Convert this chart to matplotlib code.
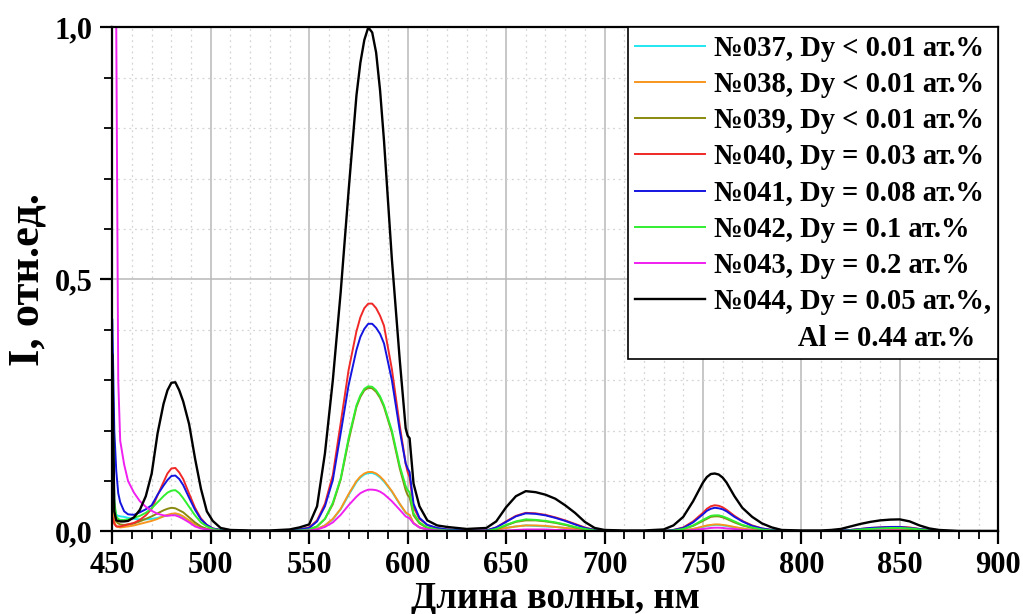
import matplotlib
matplotlib.use('Agg')
import matplotlib.pyplot as plt
from matplotlib.lines import Line2D
from matplotlib.ticker import MultipleLocator, FuncFormatter

# wavelength grid, nm
wl = [450, 451, 452, 453, 454, 456, 458, 461, 464, 467,
      470, 473, 476, 478, 480, 482, 484, 486, 489, 492,
      495, 498, 501, 505, 510, 520, 530, 540, 545, 550,
      554, 558, 562, 566, 570, 574, 576, 578, 580, 582,
      584, 586, 588, 592, 596, 599, 600, 601, 603, 606,
      610, 615, 620, 630, 640, 645, 650, 655, 660, 665,
      670, 675, 680, 685, 690, 695, 700, 710, 720, 730,
      735, 740, 745, 750, 752, 754, 756, 758, 760, 762,
      766, 770, 775, 780, 785, 790, 800, 810, 815, 820,
      825, 830, 835, 840, 845, 850, 855, 860, 865, 870,
      880, 890, 900]

s037 = [0.25, 0.05, 0.033, 0.031, 0.03, 0.029, 0.027, 0.025, 0.024, 0.024,
        0.025, 0.027, 0.03, 0.032, 0.034, 0.034, 0.032, 0.028, 0.021, 0.013,
        0.008, 0.004, 0.003, 0.001, 0.001, 0.0, 0.0, 0.001, 0.001, 0.002,
        0.005, 0.012, 0.024, 0.044, 0.072, 0.098, 0.107, 0.113, 0.116, 0.116,
        0.113, 0.107, 0.099, 0.079, 0.054, 0.037, 0.034, 0.032, 0.016, 0.008,
        0.004, 0.002, 0.001, 0.0, 0.001, 0.003, 0.007, 0.01, 0.012, 0.011,
        0.01, 0.009, 0.007, 0.005, 0.003, 0.001, 0.0, 0.0, 0.0, 0.0,
        0.001, 0.002, 0.005, 0.009, 0.011, 0.012, 0.013, 0.013, 0.012, 0.011,
        0.008, 0.006, 0.003, 0.002, 0.001, 0.0, 0.0, 0.0, 0.0, 0.001,
        0.001, 0.001, 0.002, 0.002, 0.003, 0.003, 0.002, 0.001, 0.001, 0.0,
        0.0, 0.0, 0.0]

s038 = [0.1, 0.02, 0.01, 0.009, 0.008, 0.009, 0.01, 0.012, 0.015, 0.018,
        0.021, 0.025, 0.03, 0.033, 0.035, 0.036, 0.034, 0.03, 0.022, 0.014,
        0.008, 0.005, 0.003, 0.001, 0.001, 0.0, 0.0, 0.001, 0.001, 0.002,
        0.005, 0.012, 0.025, 0.045, 0.074, 0.1, 0.109, 0.115, 0.118, 0.118,
        0.115, 0.109, 0.101, 0.08, 0.055, 0.038, 0.035, 0.033, 0.017, 0.008,
        0.004, 0.002, 0.001, 0.0, 0.001, 0.003, 0.007, 0.01, 0.012, 0.012,
        0.011, 0.009, 0.007, 0.005, 0.003, 0.001, 0.0, 0.0, 0.0, 0.0,
        0.001, 0.002, 0.005, 0.01, 0.012, 0.013, 0.014, 0.014, 0.013, 0.012,
        0.009, 0.006, 0.003, 0.002, 0.001, 0.0, 0.0, 0.0, 0.0, 0.001,
        0.001, 0.001, 0.002, 0.002, 0.003, 0.003, 0.002, 0.001, 0.001, 0.0,
        0.0, 0.0, 0.0]

s039 = [0.2, 0.04, 0.02, 0.016, 0.014, 0.013, 0.014, 0.016, 0.02, 0.025,
        0.03, 0.036, 0.042, 0.045, 0.047, 0.046, 0.042, 0.038, 0.028, 0.018,
        0.01, 0.005, 0.003, 0.002, 0.001, 0.001, 0.001, 0.001, 0.002, 0.004,
        0.01, 0.025, 0.054, 0.103, 0.18, 0.247, 0.267, 0.28, 0.285, 0.284,
        0.277, 0.265, 0.247, 0.196, 0.125, 0.082, 0.072, 0.068, 0.032, 0.016,
        0.007, 0.003, 0.002, 0.001, 0.001, 0.004, 0.012, 0.019, 0.022, 0.022,
        0.02, 0.017, 0.013, 0.008, 0.004, 0.002, 0.001, 0.0, 0.0, 0.001,
        0.002, 0.005, 0.011, 0.021, 0.025, 0.029, 0.03, 0.03, 0.028, 0.025,
        0.018, 0.012, 0.007, 0.004, 0.002, 0.001, 0.0, 0.0, 0.001, 0.001,
        0.002, 0.003, 0.005, 0.006, 0.006, 0.006, 0.005, 0.003, 0.002, 0.001,
        0.0, 0.0, 0.0]

s040 = [0.03, 0.015, 0.01, 0.01, 0.01, 0.012, 0.014, 0.017, 0.023, 0.032,
        0.045, 0.072, 0.098, 0.115, 0.125, 0.126, 0.117, 0.104, 0.075, 0.047,
        0.026, 0.013, 0.006, 0.003, 0.002, 0.001, 0.001, 0.002, 0.004, 0.008,
        0.022, 0.055, 0.112, 0.215, 0.32, 0.397, 0.425, 0.443, 0.452, 0.452,
        0.443, 0.428, 0.408, 0.322, 0.21, 0.135, 0.118, 0.108, 0.048, 0.025,
        0.013, 0.006, 0.004, 0.002, 0.002, 0.008, 0.02, 0.031, 0.037, 0.036,
        0.033, 0.028, 0.022, 0.015, 0.008, 0.003, 0.001, 0.001, 0.001, 0.001,
        0.003, 0.008, 0.02, 0.037, 0.045, 0.05, 0.052, 0.051, 0.048, 0.043,
        0.031, 0.021, 0.012, 0.006, 0.003, 0.001, 0.001, 0.001, 0.001, 0.002,
        0.003, 0.005, 0.007, 0.008, 0.009, 0.009, 0.008, 0.005, 0.003, 0.001,
        0.001, 0.0, 0.0]

s041 = [0.42, 0.2, 0.12, 0.076, 0.058, 0.04, 0.034, 0.033, 0.038, 0.044,
        0.052, 0.073, 0.091, 0.102, 0.11, 0.111, 0.104, 0.092, 0.067, 0.043,
        0.024, 0.013, 0.006, 0.003, 0.002, 0.001, 0.001, 0.002, 0.004, 0.007,
        0.02, 0.05, 0.102, 0.195, 0.29, 0.36, 0.386, 0.402, 0.412, 0.412,
        0.404, 0.392, 0.373, 0.3, 0.2, 0.135, 0.125, 0.118, 0.055, 0.027,
        0.013, 0.007, 0.004, 0.002, 0.002, 0.008, 0.019, 0.03, 0.036, 0.035,
        0.032, 0.027, 0.021, 0.014, 0.007, 0.003, 0.001, 0.001, 0.001, 0.001,
        0.003, 0.007, 0.018, 0.034, 0.041, 0.045, 0.047, 0.046, 0.044, 0.04,
        0.029, 0.02, 0.011, 0.006, 0.003, 0.001, 0.001, 0.001, 0.001, 0.002,
        0.003, 0.005, 0.007, 0.008, 0.009, 0.009, 0.007, 0.005, 0.003, 0.001,
        0.001, 0.0, 0.0]

s042 = [0.3, 0.06, 0.03, 0.025, 0.023, 0.023, 0.024, 0.027, 0.031, 0.037,
        0.046, 0.058, 0.07, 0.077, 0.081, 0.082, 0.076, 0.066, 0.049, 0.032,
        0.018, 0.01, 0.005, 0.002, 0.001, 0.001, 0.001, 0.001, 0.002, 0.004,
        0.01, 0.025, 0.057, 0.105, 0.185, 0.25, 0.27, 0.283, 0.288, 0.287,
        0.28, 0.268, 0.25, 0.2, 0.13, 0.09, 0.082, 0.078, 0.036, 0.018,
        0.008, 0.004, 0.002, 0.001, 0.001, 0.005, 0.013, 0.02, 0.024, 0.023,
        0.021, 0.018, 0.014, 0.009, 0.005, 0.002, 0.001, 0.0, 0.0, 0.001,
        0.002, 0.005, 0.012, 0.023, 0.027, 0.031, 0.032, 0.032, 0.03, 0.027,
        0.02, 0.013, 0.008, 0.004, 0.002, 0.001, 0.0, 0.0, 0.001, 0.001,
        0.002, 0.004, 0.005, 0.006, 0.007, 0.007, 0.006, 0.004, 0.002, 0.001,
        0.0, 0.0, 0.0]

s043 = [2.0, 1.7, 1.0, 0.3, 0.18, 0.133, 0.1, 0.077, 0.06, 0.049,
        0.041, 0.035, 0.032, 0.031, 0.032, 0.032, 0.029, 0.025, 0.018, 0.01,
        0.006, 0.004, 0.002, 0.001, 0.001, 0.0, 0.0, 0.001, 0.001, 0.002,
        0.004, 0.009, 0.018, 0.033, 0.052, 0.069, 0.076, 0.08, 0.083, 0.083,
        0.082, 0.079, 0.074, 0.06, 0.043, 0.03, 0.028, 0.026, 0.016, 0.008,
        0.004, 0.002, 0.001, 0.0, 0.0, 0.001, 0.002, 0.003, 0.004, 0.004,
        0.004, 0.003, 0.003, 0.002, 0.001, 0.0, 0.0, 0.0, 0.0, 0.0,
        0.001, 0.001, 0.003, 0.005, 0.006, 0.007, 0.0075, 0.0075, 0.007, 0.006,
        0.005, 0.003, 0.002, 0.001, 0.0, 0.0, 0.0, 0.0, 0.0, 0.0,
        0.001, 0.001, 0.001, 0.002, 0.002, 0.002, 0.001, 0.001, 0.0, 0.0,
        0.0, 0.0, 0.0]

s044 = [0.35, 0.04, 0.022, 0.021, 0.02, 0.02, 0.021, 0.028, 0.043, 0.07,
        0.115, 0.195, 0.253, 0.28, 0.295, 0.296, 0.28, 0.258, 0.213, 0.145,
        0.085, 0.04, 0.021, 0.007, 0.003, 0.002, 0.002, 0.004, 0.008, 0.014,
        0.05, 0.155, 0.30, 0.475, 0.675, 0.865, 0.93, 0.975, 1.0, 0.99,
        0.95, 0.875, 0.775, 0.54, 0.34, 0.205, 0.19, 0.185, 0.095, 0.05,
        0.022, 0.012, 0.009, 0.005, 0.007, 0.02, 0.048, 0.07, 0.08, 0.078,
        0.073, 0.065, 0.052, 0.037, 0.019, 0.007, 0.003, 0.002, 0.002, 0.004,
        0.012, 0.029, 0.06, 0.097, 0.108, 0.114, 0.115, 0.113, 0.107, 0.097,
        0.07, 0.047, 0.029, 0.016, 0.008, 0.003, 0.002, 0.002, 0.003, 0.005,
        0.01, 0.015, 0.019, 0.022, 0.0235, 0.024, 0.02, 0.012, 0.006, 0.003,
        0.001, 0.001, 0.001]

labels = ['№037, Dy < 0.01 ат.%', '№038, Dy < 0.01 ат.%', '№039, Dy < 0.01 ат.%',
          '№040, Dy = 0.03 ат.%', '№041, Dy = 0.08 ат.%', '№042, Dy = 0.1 ат.%',
          '№043, Dy = 0.2 ат.%', '№044, Dy = 0.05 ат.%,']
extra_label = '            Al = 0.44 ат.%'
colors = ['#22e6f0', '#f7961e', '#8a8a10', '#f02828', '#1414e0', '#30ee30', '#f020f0', '#000000']
series = [s037, s038, s039, s040, s041, s042, s043, s044]

plt.rcParams['font.family'] = ['Liberation Serif', 'DejaVu Serif']
plt.rcParams['font.weight'] = 'bold'

fig = plt.figure(figsize=(10.23, 6.14), dpi=100)
ax = fig.add_axes([0.1098, 0.1344, 0.866, 0.821])

for s, c, lab in zip(series, colors, labels):
    lw = 1.7 if c == '#000000' else 1.4
    ax.plot(wl, s, color=c, lw=lw, label=lab)

ax.set_xlim(450, 900)
ax.set_ylim(0, 1.0)
ax.xaxis.set_major_locator(MultipleLocator(50))
ax.xaxis.set_minor_locator(MultipleLocator(10))
ax.yaxis.set_major_locator(MultipleLocator(0.5))
ax.yaxis.set_minor_locator(MultipleLocator(0.1))
ax.yaxis.set_major_formatter(FuncFormatter(lambda v, p: f'{v:.1f}'.replace('.', ',')))

ax.grid(which='major', color='#b8b8b8', lw=1.1, ls='-')
ax.grid(which='minor', color='#d4d4d4', lw=0.9, ls=(0, (1.5, 3)))
ax.set_axisbelow(True)

for sp in ax.spines.values():
    sp.set_linewidth(1.6)
    sp.set_color('black')
ax.tick_params(which='major', direction='out', length=9, width=1.6, labelsize=22, pad=5)
ax.tick_params(which='minor', direction='out', length=6, width=1.3)

ax.set_xlabel('Длина волны, нм', fontsize=26.5, fontweight='bold')
ax.xaxis.set_label_coords(0.5, -0.098)
ax.set_ylabel('I, отн.ед.', fontsize=32, fontweight='bold')
ax.yaxis.set_label_coords(-0.073, 0.5)

handles, labs = ax.get_legend_handles_labels()
handles.append(Line2D([], [], color='none'))
labs.append(extra_label)
leg = ax.legend(handles, labs, loc='upper right', bbox_to_anchor=(1.0, 1.0), borderaxespad=0,
                fancybox=False, framealpha=1, edgecolor='black', fontsize=20.6,
                handlelength=2.45, handletextpad=0.3, labelspacing=0.324, borderpad=0.25)
leg.get_frame().set_linewidth(1.2)

fig.savefig('out.png', dpi=100)
